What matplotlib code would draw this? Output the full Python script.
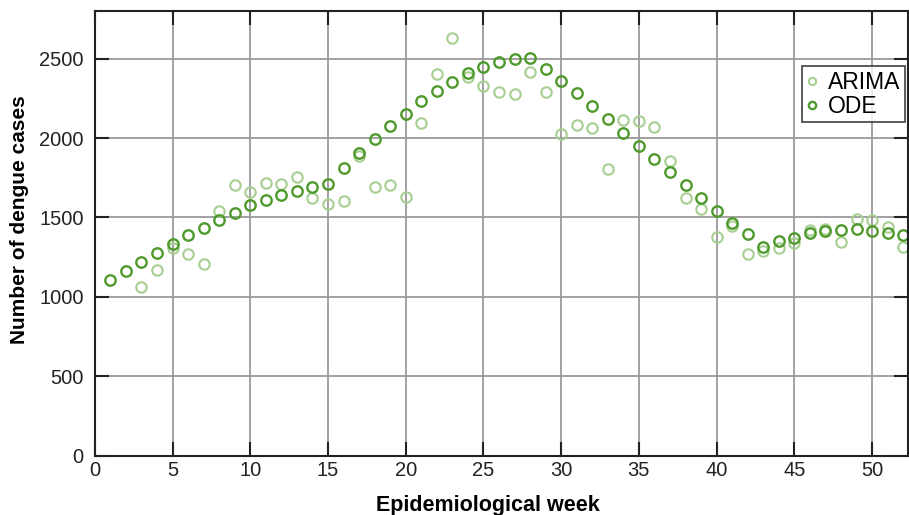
import matplotlib.pyplot as plt
import numpy as np

plt.rcParams['font.family'] = ['Liberation Sans', 'DejaVu Sans']

# weekly values
weeks_ode = np.arange(1, 53)
ode = [1108, 1164, 1218, 1277, 1336, 1392, 1436, 1484, 1531, 1579,
       1608, 1642, 1667, 1694, 1709, 1809, 1904, 1992, 2076, 2153,
       2233, 2298, 2355, 2407, 2445, 2476, 2495, 2506, 2434, 2359,
       2286, 2201, 2118, 2034, 1950, 1868, 1784, 1703, 1622, 1541,
       1468, 1394, 1313, 1352, 1373, 1403, 1413, 1421, 1426, 1413,
       1405, 1390]

weeks_arima = np.arange(3, 53)
arima = [1061, 1170, 1311, 1273, 1210, 1539, 1707, 1660, 1720, 1711,
         1753, 1623, 1587, 1606, 1887, 1690, 1707, 1631, 2092, 2402,
         2629, 2382, 2325, 2292, 2277, 2418, 2289, 2025, 2084, 2063,
         1805, 2111, 2105, 2072, 1853, 1621, 1553, 1377, 1447, 1270,
         1292, 1311, 1342, 1420, 1426, 1344, 1493, 1487, 1440, 1314]

x_ticks = [0, 5, 10, 15, 20, 25, 30, 35, 40, 45, 50]
y_ticks = [0, 500, 1000, 1500, 2000, 2500]

fig = plt.figure(figsize=(9.09, 5.15), dpi=100)
ax = fig.add_axes([0.1043, 0.1151, 0.8944, 0.8635])

ax.plot(weeks_arima, arima, 'o', mfc='none', mec='#a8cf92', mew=1.5,
        ms=7.5, label='ARIMA')
ax.plot(weeks_ode, ode, 'o', mfc='none', mec='#4f9a2c', mew=1.7,
        ms=7.5, label='ODE')

ax.set_xlim(0, 52.3)
ax.set_ylim(0, 2800)
ax.set_xticks(x_ticks)
ax.set_yticks(y_ticks)
ax.grid(True, color='#9a9a9a', linewidth=1.3)
ax.set_axisbelow(True)
ax.tick_params(direction='in', length=10, width=1.5, top=True, right=True,
               labelsize=14.5, colors='#222222')
ax.tick_params(axis='x', pad=4)
ax.tick_params(axis='y', pad=8)
for s in ax.spines.values():
    s.set_linewidth(1.5)
    s.set_color('#222222')

ax.set_xlabel('Epidemiological week', fontsize=15.5, fontweight='bold')
ax.set_ylabel('Number of dengue cases', fontsize=15, fontweight='bold')
ax.xaxis.set_label_coords(0.4836, -0.088)
ax.yaxis.set_label_coords(-0.081, 0.532)

leg = ax.legend(loc='upper right', bbox_to_anchor=(0.9966, 0.876),
                fontsize=16.5, frameon=True, fancybox=False, handlelength=0.5,
                handletextpad=0.45, borderpad=0.2, labelspacing=0.05,
                borderaxespad=0, markerscale=0.7)
leg.get_frame().set_edgecolor('#222222')
leg.get_frame().set_linewidth(1.3)

fig.savefig('out.png', dpi=100)
